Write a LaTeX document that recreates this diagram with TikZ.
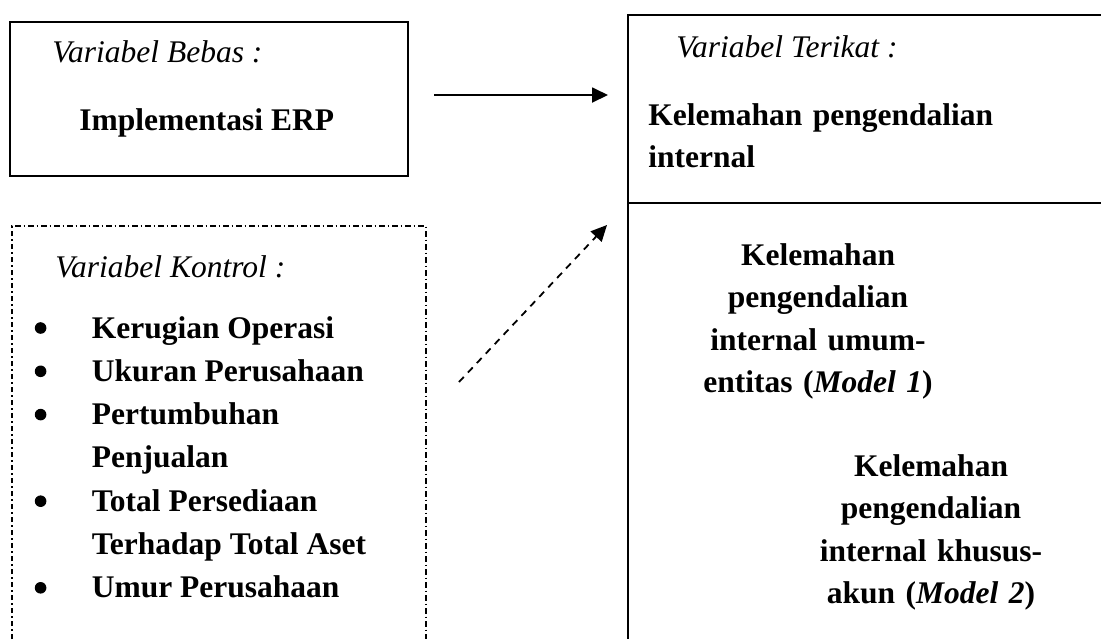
\documentclass[tikz,border=0pt]{standalone}
\usepackage{fontspec}
\setmainfont{Liberation Serif}
\usetikzlibrary{matrix,positioning,arrows.meta}
\newcommand{\sz}{\fontsize{15.75}{21.25}\selectfont}
\newcommand{\blt}{%
  \tikz[baseline=-5pt]{
    \fill[black] (0,0) circle [radius=2.9pt];
  }%
}
\tikzset{
  itl/.style={font=\sz\itshape, inner sep=0pt, anchor=base west},
  bld/.style={font=\sz\bfseries, inner sep=0pt},
  frame/.style={draw, line width=0.9pt},
  ctrlframe/.style={draw, line width=0.75pt, dash pattern=on 2.75pt off 1.5pt on 0.75pt off 1.5pt},
  arr/.style={line width=0.9pt, -{Triangle[length=8pt,width=7.5pt]}},
}

\begin{document}
\begin{tikzpicture}[x=0.5pt, y=-0.5pt]
    \useasboundingbox (0,0) rectangle (1101,639);
    % variabel bebas
    \node[frame, inner sep=0pt, minimum width=199pt, minimum height=77pt, anchor=north west] (bebas) at (9,21) {};
    \node[itl] (bebasLbl) at (52,62) {Variabel Bebas :};
    \node[bld, anchor=base west] (erp) at (79,130) {Implementasi ERP};
    % variabel kontrol
    \draw[ctrlframe] (12,639) |- (426,226) -- (426,639);
    \node[itl] (kontrolLbl) at (55,277) {Variabel Kontrol :};
    \matrix (ctl) [matrix of nodes, anchor=north west, inner sep=0pt, row sep=0pt, column sep=22.7pt,
      nodes={bld, anchor=base west, text height=15.3pt, text depth=6.35pt}] at (34,307) {
      \blt & Kerugian Operasi \\
      \blt & Ukuran Perusahaan \\
      \blt & Pertumbuhan \\
           & Penjualan \\
      \blt & Total Persediaan \\
           & Terhadap Total Aset \\
      \blt & Umur Perusahaan \\
    };
    % variabel terikat
    \draw[frame] (1101,15) -| (628,639);
    \draw[frame] (628,203) -- (1101,203);
    \node[itl] (terikatLbl) at (676,57) {Variabel Terikat :};
    \node[bld, anchor=base west, text width=200pt, align=left] (lemah) at (648,125) {Kelemahan pengendalian\\internal};
    \node[bld, anchor=base, text width=130pt, align=center] (model1) at (818,265) {Kelemahan\\pengendalian\\internal umum-\\entitas (\textit{Model 1})};
    \node[bld, anchor=base, text width=130pt, align=center] (model2) at (931,476) {Kelemahan\\pengendalian\\internal khusus-\\akun (\textit{Model 2})};
    % panah
    \coordinate (bebasOut) at (434,95);
    \coordinate (terikatIn) at (608,95);
    \draw[arr] (bebasOut) -- (terikatIn);
    \coordinate (kontrolOut) at (459,382);
    \coordinate (kontrolIn) at (607,225);
    \draw[arr, dash pattern=on 3.5pt off 3pt] (kontrolOut) -- (kontrolIn);
\end{tikzpicture}
\end{document}
